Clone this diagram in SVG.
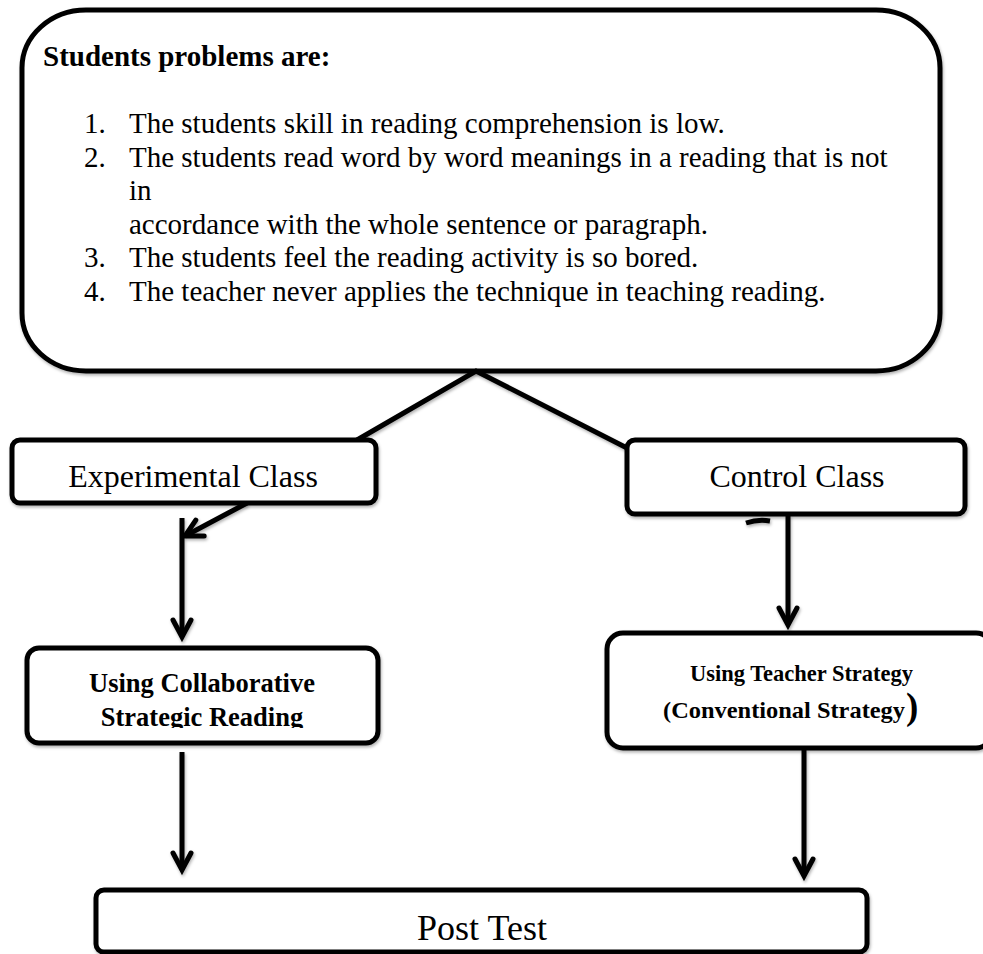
<svg xmlns="http://www.w3.org/2000/svg" width="983" height="954" viewBox="0 0 983 954">
<defs>
<style>
.box{fill:#fff;stroke:#000;stroke-width:5}
.ln{fill:none;stroke:#000;stroke-width:5}
.t{font-family:"Liberation Serif","Times New Roman",serif;fill:#000}
.b{font-weight:bold}
</style>
<filter id="sh" x="-5%" y="-5%" width="110%" height="115%">
<feDropShadow dx="1" dy="2" stdDeviation="1.5" flood-color="#000" flood-opacity="0.3"/>
</filter>
<marker id="ah" markerUnits="userSpaceOnUse" markerWidth="30" markerHeight="30" viewBox="-24 -15 30 30" refX="0" refY="0" orient="auto" style="overflow:visible">
<path d="M-17,-9 L0,0 L-17,9" fill="none" stroke="#000" stroke-width="5" stroke-linecap="round"/>
</marker>
<clipPath id="csrclip"><rect x="27" y="648" width="351" height="80"/></clipPath>
</defs>
<rect width="983" height="954" fill="#fff"/>
<g id="problems">
<rect class="box" x="22" y="10" width="918" height="361" rx="64" ry="58" filter="url(#sh)"/>
<text class="t b" x="43" y="66" font-size="29">Students problems are:</text>
<g class="t" font-size="29">
<text x="84" y="133">1.</text><text x="129" y="133">The students skill in reading comprehension is low.</text>
<text x="84" y="166.5">2.</text><text x="129" y="166.5">The students read word by word meanings in a reading that is not</text>
<text x="129" y="200">in</text>
<text x="129" y="233.5">accordance with the whole sentence or paragraph.</text>
<text x="84" y="267">3.</text><text x="129" y="267">The students feel the reading activity is so bored.</text>
<text x="84" y="300.5">4.</text><text x="129" y="300.5">The teacher never applies the technique in teaching reading.</text>
</g>
</g>
<g id="connectors" filter="url(#sh)">
<path class="ln" d="M357,440 L476,371 L627,448"/>
<path class="ln" d="M247,503 L185,536" marker-end="url(#ah)"/>
<path class="ln" d="M182,518 L182,637" marker-end="url(#ah)"/>
<path class="ln" d="M746,523 Q758,519 770,521"/>
<path class="ln" d="M788,515 L788,625" marker-end="url(#ah)"/>
<path class="ln" d="M182,752 L182,870" marker-end="url(#ah)"/>
<path class="ln" d="M804,750 L804,876" marker-end="url(#ah)"/>
</g>
<g id="experimental">
<rect class="box" x="12" y="440" width="364" height="63" rx="8" filter="url(#sh)"/>
<text class="t" x="193" y="487" font-size="32" text-anchor="middle">Experimental Class</text>
</g>
<g id="control">
<rect class="box" x="627" y="440" width="338" height="74" rx="8" filter="url(#sh)"/>
<text class="t" x="797" y="487" font-size="32" text-anchor="middle">Control Class</text>
</g>
<g id="csr">
<rect class="box" x="27" y="648" width="351" height="95" rx="12" filter="url(#sh)"/>
<g clip-path="url(#csrclip)">
<text class="t b" x="202" y="692" font-size="26.5" text-anchor="middle">Using Collaborative</text>
<text class="t b" x="202" y="726" font-size="26.5" text-anchor="middle">Strategic Reading</text>
</g>
</g>
<g id="teacher">
<rect class="box" x="607" y="633" width="385" height="115" rx="16" filter="url(#sh)"/>
<text class="t b" x="690" y="681" font-size="24" textLength="223" lengthAdjust="spacingAndGlyphs">Using Teacher Strategy</text>
<text class="t b" x="663" y="718" font-size="24" textLength="242" lengthAdjust="spacingAndGlyphs">(Conventional Strategy</text>
<text class="t b" x="906" y="719" font-size="37">)</text>
</g>
<g id="posttest">
<rect class="box" x="96" y="890" width="771" height="62" rx="8" filter="url(#sh)"/>
<text class="t" x="482" y="940" font-size="36" text-anchor="middle">Post Test</text>
</g>
</svg>
